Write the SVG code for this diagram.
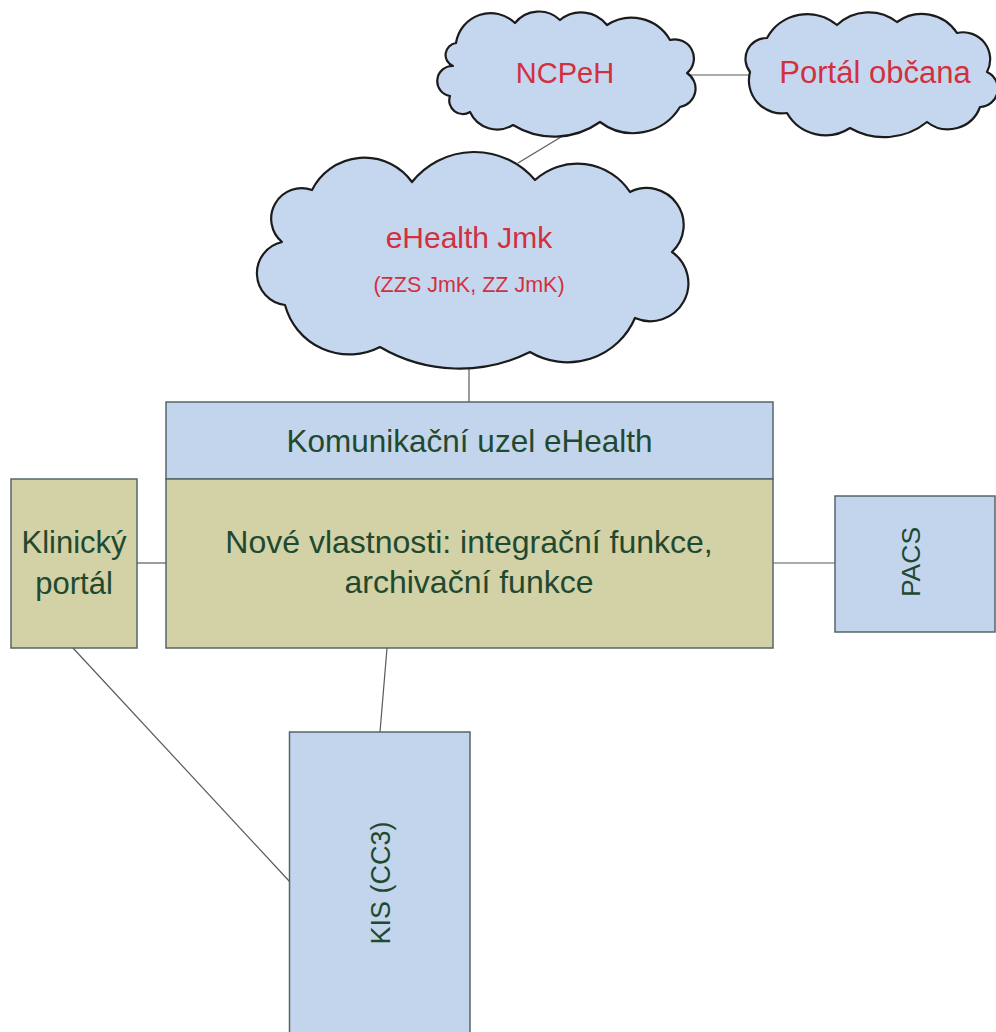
<svg xmlns="http://www.w3.org/2000/svg" width="996" height="1032" viewBox="0 0 996 1032">
<style>
.bg{fill:#ffffff}
.cloud{fill:#c5d7ee;stroke:#1b1b1b;stroke-width:2.2;stroke-linejoin:round}
.blue{fill:#c3d5ec;stroke:#55656a;stroke-width:1.5}
.olive{fill:#d3d1a6;stroke:#55656a;stroke-width:1.5}
.conn{stroke:#5a5a5a;stroke-width:1.2;fill:none}
.red{fill:#d2303f;font-family:"Liberation Sans",Arial,sans-serif;text-anchor:middle}
.grn{fill:#21492f;font-family:"Liberation Sans",Arial,sans-serif;text-anchor:middle}
</style>
<rect class="bg" x="0" y="0" width="996" height="1032"/>
<g id="connectors">
<line class="conn" x1="518" y1="163" x2="566" y2="134"/>
<line class="conn" x1="690" y1="75" x2="752" y2="75"/>
<line class="conn" x1="469" y1="360" x2="469" y2="402"/>
<line class="conn" x1="137" y1="563" x2="166" y2="563"/>
<line class="conn" x1="773" y1="563" x2="835" y2="563"/>
<line class="conn" x1="387" y1="648" x2="380" y2="732"/>
<line class="conn" x1="73" y1="648" x2="290" y2="882"/>
</g>
<g id="ncpeh">
<path class="cloud" d="M453,66 A12,12 0 0 1 456,43 A35,35 0 0 1 515,23 A30.5,30.5 0 0 1 560,20 A33,33 0 0 1 607,25 A44.5,44.5 0 0 1 670,40 A19,19 0 0 1 687,73 A18.6,18.6 0 0 1 680,107 A55,55 0 0 1 600,122 A79,79 0 0 1 513,125 A30,30 0 0 1 470,112 A13.6,13.6 0 0 1 450,96 A15.1,15.1 0 0 1 453,66 Z"/>
<text class="red" x="565" y="83" font-size="29">NCPeH</text>
</g>
<g id="portal-obcana">
<path class="cloud" d="M750,72 A21,21 0 0 1 767,38 A46,46 0 0 1 837,25 A46,46 0 0 1 897,22 A42,42 0 0 1 957,33 A27,27 0 0 1 987,72 A18.3,18.3 0 0 1 980,107 A34,34 0 0 1 927,122 A68,68 0 0 1 850,128 A44.5,44.5 0 0 1 787,113 A33,33 0 0 1 750,72 Z"/>
<text class="red" x="875" y="83" font-size="31">Portál občana</text>
</g>
<g id="ehealth-jmk">
<path class="cloud" d="M285,305 A32,32 0 0 1 282,242 A30.5,30.5 0 0 1 312,190 A58.6,58.6 0 0 1 412,182 A79.7,79.7 0 0 1 535,180 A63,63 0 0 1 630,192 A37,37 0 0 1 672,252 A38,38 0 0 1 635,318 A73.4,73.4 0 0 1 530,352 A157.5,157.5 0 0 1 380,347 A66.6,66.6 0 0 1 285,305 Z"/>
<text class="red" x="469" y="248" font-size="30">eHealth Jmk</text>
<text class="red" x="469" y="292" font-size="21.5">(ZZS JmK, ZZ JmK)</text>
</g>
<g id="komunikacni-uzel">
<rect class="blue" x="166" y="402" width="607" height="77"/>
<text class="grn" x="469.5" y="452" font-size="31.5">Komunikační uzel eHealth</text>
</g>
<g id="nove-vlastnosti">
<rect class="olive" x="166" y="479" width="607" height="169"/>
<text class="grn" x="469" y="553" font-size="32">Nové vlastnosti: integrační funkce,</text>
<text class="grn" x="469" y="593" font-size="32">archivační funkce</text>
</g>
<g id="klinicky-portal">
<rect class="olive" x="11" y="479" width="126" height="169"/>
<text class="grn" x="74" y="553" font-size="31">Klinický</text>
<text class="grn" x="74" y="594" font-size="31">portál</text>
</g>
<g id="pacs">
<rect class="blue" x="835" y="496" width="160" height="136"/>
<text class="grn" font-size="26.5" transform="translate(920,562) rotate(-90)" x="0" y="0">PACS</text>
</g>
<g id="kis">
<rect class="blue" x="289.5" y="732" width="180.5" height="310"/>
<text class="grn" font-size="27" transform="translate(390,883) rotate(-90)" x="0" y="0">KIS (CC3)</text>
</g>
</svg>
